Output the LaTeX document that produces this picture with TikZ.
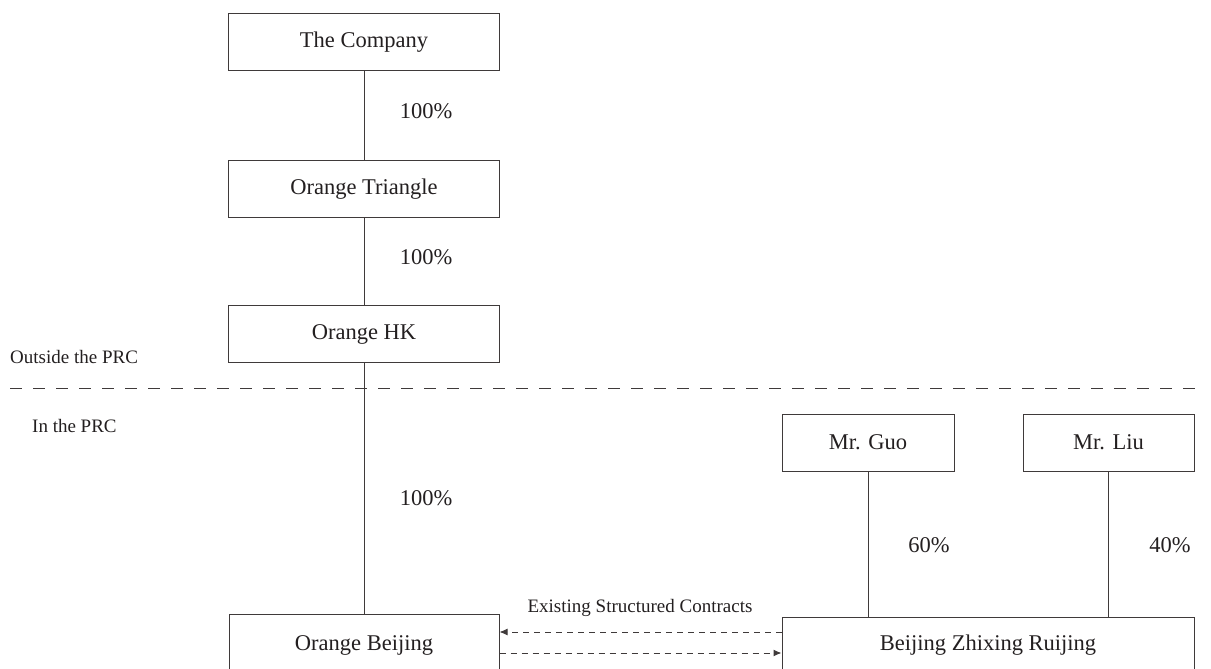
\documentclass[tikz,border=0pt]{standalone}
\usepackage{fontspec}
\setmainfont{Liberation Serif}
\usetikzlibrary{arrows.meta}
\definecolor{ink}{HTML}{231F20}
\definecolor{rule}{HTML}{3F3A3A}
\tikzset{
  box/.style={draw=rule, line width=1pt, rectangle, inner sep=0pt, text=ink,
    font=\fontsize{22.5}{27}\selectfont},
  pct/.style={inner sep=0pt, text=ink, font=\fontsize{22.5}{27}\selectfont},
  small/.style={inner sep=0pt, text=ink, font=\fontsize{19}{23}\selectfont},
  link/.style={draw=rule, line width=1pt},
  contract/.style={draw=rule, line width=1pt, dash pattern=on 6pt off 5pt,
    -{Latex[length=8pt,width=7pt]}},
}
\begin{document}
\begin{tikzpicture}[x=1pt,y=-1pt]
\useasboundingbox (0,0) rectangle (1211,669);
\clip (0,0) rectangle (1211,669);
% boxes
\node[box, minimum width=271pt, minimum height=57pt] (co) at (364,42.5) {The Company};
\node[box, minimum width=271pt, minimum height=57pt] (tri) at (364,189) {Orange Triangle};
\node[box, minimum width=271pt, minimum height=57pt] (hk) at (364,334) {Orange HK};
\node[box, minimum width=270pt, minimum height=62pt] (ob) at (364,645) {Orange Beijing};
\node[box, minimum width=172pt, minimum height=57pt] (guo) at (868,442.5) {Mr. Guo};
\node[box, minimum width=171pt, minimum height=57pt] (liu) at (1108.5,442.5) {Mr. Liu};
\node[box, minimum width=412pt, minimum height=56pt] (zx) at (988,645) {Beijing Zhixing Ruijing};
% ownership lines
\draw[link] (co.south) -- (tri.north);
\draw[link] (tri.south) -- (hk.north);
\draw[link] (hk.south) -- (ob.north);
\draw[link] (guo.south) -- (guo.south |- zx.north);
\draw[link] (liu.south) -- (liu.south |- zx.north);
% percentages
\node[pct] (p1) at (426,111) {100\%};
\node[pct] (p2) at (426,257) {100\%};
\node[pct] (p3) at (426,498) {100\%};
\node[pct] (p4) at (929,545) {60\%};
\node[pct] (p5) at (1170,545) {40\%};
% PRC boundary
\coordinate (bl) at (10,388);
\coordinate (br) at (1205,388);
\draw[draw=rule, line width=1pt, dash pattern=on 12pt off 11pt] (bl) -- (br);
\node[small, anchor=west] (out) at (10,357) {Outside the PRC};
\node[small, anchor=west] (in) at (32,426) {In the PRC};
% contracts
\draw[contract] (zx.west |- 0,632) -- (ob.east |- 0,632);
\draw[contract] (ob.east |- 0,653) -- (zx.west |- 0,653);
\node[small] (esc) at (640,608) {Existing Structured Contracts};
\end{tikzpicture}
\end{document}
